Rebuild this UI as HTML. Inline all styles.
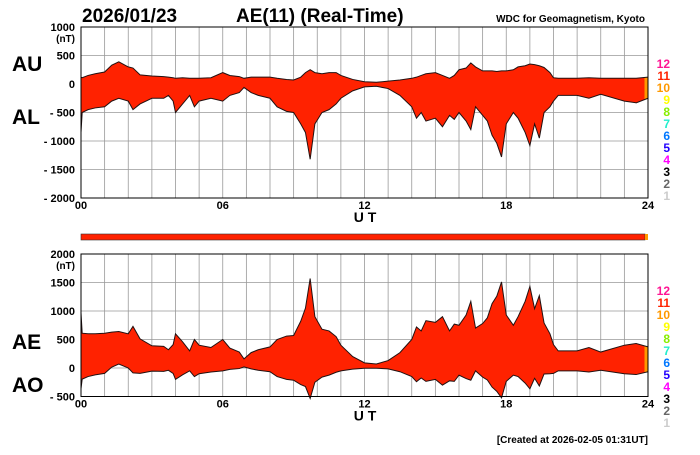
<!DOCTYPE html>
<html><head><meta charset="utf-8"><style>
body{margin:0;background:#fff;}
svg text{font-family:"Liberation Sans",sans-serif;font-weight:bold;}
</style></head><body>
<svg id="c" width="700" height="450" xmlns="http://www.w3.org/2000/svg">
<text x="82" y="22" font-size="19">2026/01/23</text>
<text x="236" y="22" font-size="19">AE(11) (Real-Time)</text>
<text x="645" y="22" font-size="10" text-anchor="end">WDC for Geomagnetism, Kyoto</text>
<text x="12" y="71" font-size="21">AU</text>
<text x="12" y="124" font-size="21">AL</text>
<text x="12" y="349" font-size="21">AE</text>
<text x="12" y="392" font-size="21">AO</text>
<text x="75" y="42" font-size="10" text-anchor="end">(nT)</text>
<text x="75" y="269" font-size="10" text-anchor="end">(nT)</text>
<rect x="81" y="234" width="564" height="6" fill="#ff2200" stroke="#333" stroke-width="0.6"/>
<rect x="645" y="234" width="3" height="6" fill="#ff9900"/>
<text x="648" y="443" font-size="10" text-anchor="end">[Created at 2026-02-05 01:31UT]</text>
<g id="g"></g>
</svg>
<script>
const times=[0,0.05,0.3,0.6,1,1.3,1.6,2,2.2,2.5,3,3.5,3.7,3.9,4,4.3,4.6,4.8,5,5.5,6,6.3,6.7,6.9,7.2,7.5,8,8.3,8.7,9,9.3,9.5,9.7,9.9,10.2,10.5,10.8,11,11.5,12,12.5,13,13.5,14,14.2,14.4,14.6,15,15.3,15.6,15.8,16,16.3,16.5,16.7,17,17.2,17.4,17.6,17.8,18,18.3,18.5,18.8,19,19.2,19.4,19.6,19.85,20,20.2,21,21.5,22,23,23.5,24];
const au=[120,110,150,180,210,330,390,300,280,160,140,130,120,110,100,110,100,100,100,110,200,150,130,100,120,120,120,100,80,70,120,200,250,200,180,200,200,150,80,40,30,50,70,100,120,150,180,200,150,100,150,250,280,370,300,230,230,230,220,230,230,250,300,320,350,340,320,290,200,110,100,100,110,100,100,100,120];
const al=[-850,-500,-450,-420,-400,-300,-250,-300,-450,-350,-250,-250,-200,-300,-500,-350,-200,-400,-300,-250,-300,-200,-150,-60,-150,-200,-250,-400,-480,-500,-700,-850,-1320,-700,-500,-450,-350,-250,-120,-50,-40,-80,-200,-400,-600,-500,-650,-600,-750,-550,-620,-500,-650,-800,-400,-550,-650,-900,-1040,-1280,-700,-500,-600,-850,-1080,-700,-950,-500,-400,-300,-200,-200,-250,-180,-300,-330,-250];
const topTicks=["1000","500","0","- 500","- 1000","- 1500","- 2000"];
const topTickVals=[1000,500,0,-500,-1000,-1500,-2000];
const botTicks=["2000","1500","1000","500","0","- 500"];
const botTickVals=[2000,1500,1000,500,0,-500];
const hourLabels=["00","06","12","18","24"];
const hourVals=[0,6,12,18,24];
const legendNums=["12","11","10","9","8","7","6","5","4","3","2","1"];
const legendCols=["#ff1493","#ff2200","#ff9900","#ffff00","#88ee00","#22eecc","#0077ff","#2200ff","#ff00ff","#000000","#666666","#cccccc"];

const X0=81,X1=648,NS="http://www.w3.org/2000/svg";
const g=document.getElementById('g');
const xs=h=>X0+(X1-X0)*h/24;
function mk(t,a){const e=document.createElementNS(NS,t);for(const k in a)e.setAttribute(k,a[k]);g.appendChild(e);return e;}
function panel(yTop,vMax,vMin,tickL,tickV,lower,upper,pname){
  const ys=v=>yTop+(vMax-v)*0.057;
  const yB=ys(vMin);
  for(let h=0;h<=24;h++){const l=mk('line',{x1:xs(h),x2:xs(h),y1:yTop,y2:yB,stroke:'#999','stroke-width':0.8});
    
    }
  tickV.forEach((v,i)=>{const l=mk('line',{x1:X0,x2:X1,y1:ys(v),y2:ys(v),stroke:'#999','stroke-width':0.8});
    
    
    const t=mk('text',{x:75,y:ys(v)+4,'font-size':11,'text-anchor':'end'});t.textContent=tickL[i];
    
    });
  let d='M'+times.map((h,i)=>xs(h)+','+ys(upper[i])).join('L');
  for(let i=times.length-1;i>=0;i--)d+='L'+xs(times[i])+','+ys(lower[i]);
  d+='Z';
  const p=mk('path',{d:d,fill:'#ff2200',stroke:'none'});
  
  
  const cid='cl'+pname;const cp=mk('clipPath',{id:cid});
  const r=document.createElementNS(NS,'rect');r.setAttribute('x',xs(23.85));r.setAttribute('y',yTop);r.setAttribute('width',X1-xs(23.85));r.setAttribute('height',yB-yTop);cp.appendChild(r);
  const p2=mk('path',{d:d,fill:'#ff9900','clip-path':'url(#'+cid+')'});
  
  
  [upper,lower].forEach((s,k)=>{const l=mk('path',{d:'M'+times.map((h,i)=>xs(h)+','+ys(s[i])).join('L'),fill:'none',stroke:'#221111','stroke-width':1});
    
    });
  const fr=mk('rect',{x:X0,y:yTop,width:X1-X0,height:yB-yTop,fill:'none',stroke:'#000','stroke-width':1});
  
  
  hourVals.forEach((h,i)=>{const t=mk('text',{x:xs(h),y:yB+11,'font-size':11,'text-anchor':'middle'});t.textContent=hourLabels[i];
    
    });
  const u=mk('text',{x:365,y:yB+24,'font-size':14,'text-anchor':'middle'});u.textContent='U T';
  
  
  legendNums.forEach((n,i)=>{const t=mk('text',{x:670,y:yTop+41+i*12,'font-size':12,'text-anchor':'end',fill:legendCols[i]});t.textContent=n;
    
    });
}
panel(27,1000,-2000,topTicks,topTickVals,al,au,'top');
const ae=au.map((v,i)=>v-al[i]);
const ao=au.map((v,i)=>(v+al[i])/2);
panel(254,2000,-500,botTicks,botTickVals,ao,ae,'bottom');
</script>
</body></html>
